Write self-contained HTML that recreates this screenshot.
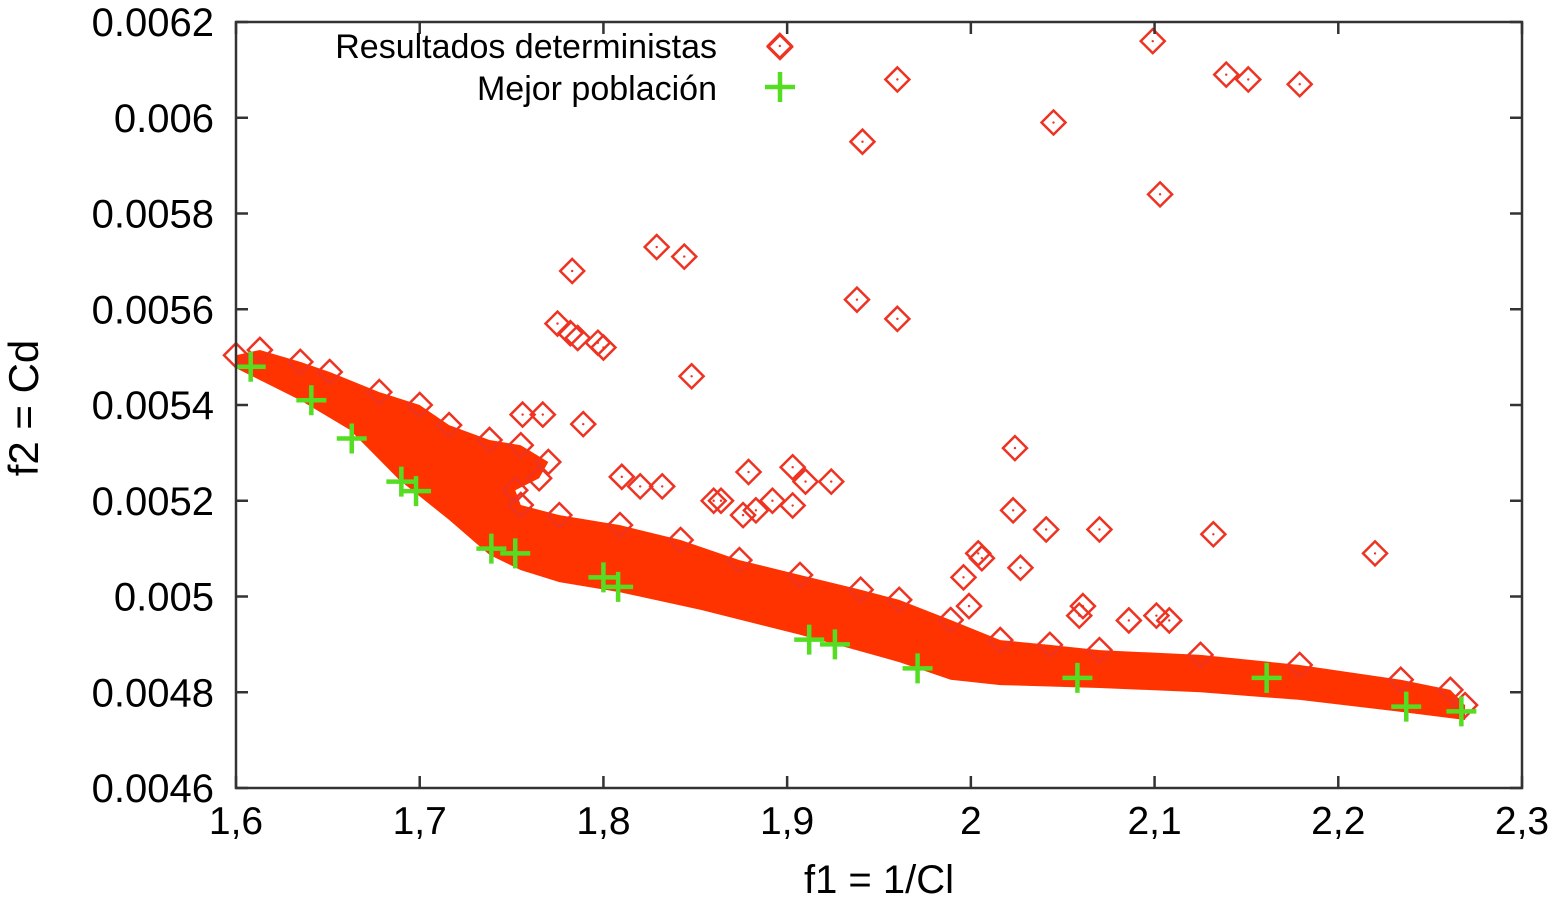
<!DOCTYPE html>
<html><head><meta charset="utf-8"><style>
body{margin:0;background:#fff}
svg text{font-family:"Liberation Sans",sans-serif;fill:#000}
</style></head><body>
<svg id="chart" width="1562" height="903">
<g id="plot"></g>
</svg>
<script>
const xTicks=[1.6,1.7,1.8,1.9,2,2.1,2.2,2.3];
const xTickLabels=["1,6","1,7","1,8","1,9","2","2,1","2,2","2,3"];
const yTicks=[0.0046,0.0048,0.005,0.0052,0.0054,0.0056,0.0058,0.006,0.0062];
const yTickLabels=["0.0046","0.0048","0.005","0.0052","0.0054","0.0056","0.0058","0.006","0.0062"];
const bandUpperX=[1.600,1.613,1.635,1.651,1.678,1.700,1.716,1.738,1.755,1.770,1.765,1.752,1.755,1.776,1.809,1.842,1.874,1.907,1.940,1.961,1.989,2.016,2.043,2.070,2.125,2.179,2.234,2.261,2.269];
const bandUpperY=[0.005504,0.005515,0.00549,0.005469,0.005427,0.0054,0.005358,0.005327,0.005316,0.005281,0.005247,0.005222,0.005191,0.00517,0.005149,0.005118,0.005076,0.005045,0.005014,0.004993,0.004951,0.004909,0.004899,0.004888,0.004878,0.004857,0.004826,0.004805,0.004773];
const bandLowerX=[2.269,2.234,2.179,2.125,2.070,2.016,1.989,1.961,1.934,1.907,1.853,1.809,1.776,1.755,1.738,1.716,1.689,1.662,1.635,1.600];
const bandLowerY=[0.004742,0.004759,0.004784,0.0048,0.004809,0.004815,0.004826,0.004863,0.004892,0.00492,0.004972,0.005009,0.00503,0.005055,0.005087,0.00516,0.005243,0.005348,0.00541,0.005477];
const detX=[1.896,2.099,1.960,2.139,2.151,2.179,2.045,1.941,2.103,1.829,1.844,1.783,1.938,1.960,1.775,1.782,1.786,1.797,1.800,1.848,1.789,2.024,1.756,1.767,1.810,1.820,1.832,1.879,1.903,1.910,1.924,1.860,1.864,1.876,1.883,1.892,1.903,2.023,2.041,2.070,2.132,2.220,2.004,2.006,2.027,1.996,1.999,2.059,2.061,2.086,2.101,2.108];
const detY=[0.00615,0.00616,0.00608,0.00609,0.00608,0.00607,0.00599,0.00595,0.00584,0.00573,0.00571,0.00568,0.00562,0.00558,0.00557,0.00555,0.00554,0.00553,0.00552,0.00546,0.00536,0.00531,0.00538,0.00538,0.00525,0.00523,0.00523,0.00526,0.00527,0.00524,0.00524,0.0052,0.0052,0.00517,0.00518,0.0052,0.00519,0.00518,0.00514,0.00514,0.00513,0.00509,0.00509,0.00508,0.00506,0.00504,0.00498,0.00496,0.00498,0.00495,0.00496,0.00495];
const bestX=[1.608,1.641,1.663,1.690,1.698,1.739,1.752,1.800,1.808,1.912,1.926,1.971,2.058,2.161,2.237,2.267];
const bestY=[0.00548,0.00541,0.00533,0.00524,0.00522,0.0051,0.00509,0.00504,0.00502,0.00491,0.0049,0.00485,0.00483,0.00483,0.00477,0.00476];

const L=236,R=1522,T=22,B=788;
const sx=v=>L+(v-1.6)/(2.3-1.6)*(R-L);
const sy=v=>B-(v-0.0046)/(0.0062-0.0046)*(B-T);
const NS="http://www.w3.org/2000/svg";
const g=document.getElementById('plot');
function mk(tag,attrs){const e=document.createElementNS(NS,tag);for(const k in attrs)e.setAttribute(k,attrs[k]);g.appendChild(e);return e;}
function diamond(x,y){return `M${x},${y-12}L${x+12},${y}L${x},${y+12}L${x-12},${y}Z`;}

let pts=[];
for(let i=0;i<bandUpperX.length;i++)pts.push(sx(bandUpperX[i])+","+sy(bandUpperY[i]));
for(let i=0;i<bandLowerX.length;i++)pts.push(sx(bandLowerX[i])+","+sy(bandLowerY[i]));
let band=mk('polygon',{points:pts.join(' '),fill:'#ff3300'});


for(let i=0;i<bandUpperX.length;i++){
 let d=mk('path',{d:diamond(sx(bandUpperX[i]),sy(bandUpperY[i])),fill:'none',stroke:'#ee3322','stroke-width':2.5});
 
 
}
for(let i=0;i<detX.length;i++){
 let x=sx(detX[i]),y=sy(detY[i]);
 let d=mk('path',{d:diamond(x,y),fill:'none',stroke:'#ee3322','stroke-width':2.5});
 
 
 mk('circle',{cx:x,cy:y,r:1.2,fill:'#ee3322'});
}
for(let i=0;i<bestX.length;i++){
 let x=sx(bestX[i]),y=sy(bestY[i]);
 let c=mk('path',{d:`M${x-15},${y}H${x+15}M${x},${y-15}V${y+15}`,stroke:'#55dd22','stroke-width':4.5});
 
 
}
let fr=mk('rect',{x:L,y:T,width:R-L,height:B-T,fill:'none',stroke:'#333','stroke-width':2.5});


for(let i=0;i<xTicks.length;i++){
 let x=sx(xTicks[i]);
 mk('path',{d:`M${x},${B}V${B-12}M${x},${T}V${T+12}`,stroke:'#333','stroke-width':2.5});
 let t=mk('text',{x:x,y:B+46,'text-anchor':'middle','font-size':39});
 t.textContent=xTickLabels[i];
 
 
}
for(let i=0;i<yTicks.length;i++){
 let y=sy(yTicks[i]);
 mk('path',{d:`M${L},${y}H${L+12}M${R},${y}H${R-12}`,stroke:'#333','stroke-width':2.5});
 let t=mk('text',{x:L-22,y:y+14,'text-anchor':'end','font-size':40});
 t.textContent=yTickLabels[i];
 
 
}
let xt=mk('text',{x:879,y:893,'text-anchor':'middle','font-size':40});
xt.textContent="f1 = 1/Cl";


let yt=mk('text',{x:0,y:0,'text-anchor':'middle','font-size':42,transform:'translate(38,408) rotate(-90)'});
yt.textContent="f2 = Cd";


let l1=mk('text',{x:717,y:58,'text-anchor':'end','font-size':34});
l1.textContent="Resultados deterministas";


let ld=mk('path',{d:diamond(780,47),fill:'none',stroke:'#ee3322','stroke-width':2.5});


let l2=mk('text',{x:717,y:100,'text-anchor':'end','font-size':34});
l2.textContent="Mejor población";


let lc=mk('path',{d:`M765,87H795M780,72V102`,stroke:'#55dd22','stroke-width':4.5});


</script>
</body></html>
